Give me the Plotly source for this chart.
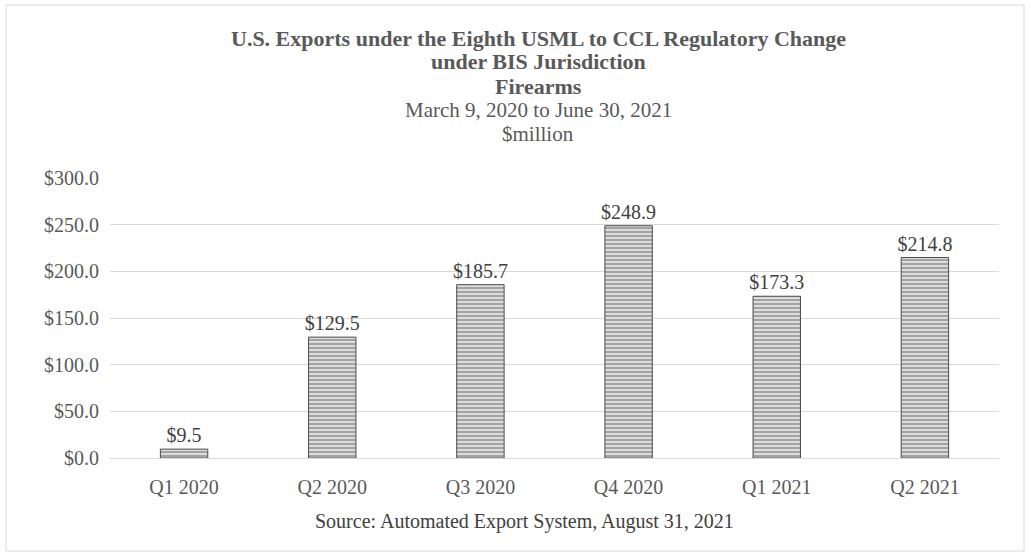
import plotly.graph_objects as go

categories = ["Q1 2020", "Q2 2020", "Q3 2020", "Q4 2020", "Q1 2021", "Q2 2021"]
values = [9.5, 129.5, 185.7, 248.9, 173.3, 214.8]
tick_vals = [0, 50, 100, 150, 200, 250, 300]
tick_text = ["$%.1f" % v for v in tick_vals]

title_bold = ["U.S. Exports under the Eighth USML to CCL Regulatory Change",
              "under BIS Jurisdiction", "Firearms"]
title_plain = ["March 9, 2020 to June 30, 2021", "$million"]
source = "Source: Automated Export System, August 31, 2021"

W, H = 1031, 559
ml, mr, mt, mb = 110, 32, 178, 101
pw, ph = W - ml - mr, H - mt - mb
FONT = "Liberation Serif"

fig = go.Figure(go.Bar(
    x=categories, y=values,
    width=0.32,
    marker=dict(color="#b0b0b0",
                line=dict(color="#4a4a4a", width=1),
                pattern=dict(shape="-", fgcolor="#6a6a6a", bgcolor="#dcdcdc",
                             size=4, solidity=0.5)),
    text=["$%.1f" % v for v in values],
    textposition="outside",
    constraintext="none",
    textfont=dict(family=FONT, size=20, color="#404040"),
    cliponaxis=False,
))

def px_to_paper_x(px):
    return (px - ml) / pw

def px_to_paper_y(py):
    return (H - mb - py) / ph

annotations = []
for t, yy in zip(title_bold, [38, 62, 86]):
    annotations.append(dict(text="<b>%s</b>" % t, x=px_to_paper_x(538), y=px_to_paper_y(yy),
                            xref="paper", yref="paper", showarrow=False,
                            xanchor="center", yanchor="middle",
                            font=dict(family=FONT, size=22, color="#595959")))
for t, yy in zip(title_plain, [110, 134]):
    annotations.append(dict(text=t, x=px_to_paper_x(538), y=px_to_paper_y(yy),
                            xref="paper", yref="paper", showarrow=False,
                            xanchor="center", yanchor="middle",
                            font=dict(family=FONT, size=21, color="#595959")))
annotations.append(dict(text=source, x=px_to_paper_x(524), y=px_to_paper_y(521),
                        xref="paper", yref="paper", showarrow=False,
                        xanchor="center", yanchor="middle",
                        font=dict(family=FONT, size=20, color="#404040")))

shapes = [dict(type="rect", xref="paper", yref="paper",
               x0=px_to_paper_x(6), x1=px_to_paper_x(1024),
               y0=px_to_paper_y(551), y1=px_to_paper_y(5),
               line=dict(color="#d9d9d9", width=1), fillcolor="rgba(0,0,0,0)",
               layer="below")]

fig.update_layout(
    width=W, height=H,
    margin=dict(l=ml, r=mr, t=mt, b=mb),
    paper_bgcolor="white", plot_bgcolor="white",
    showlegend=False,
    annotations=annotations,
    shapes=shapes,
    xaxis=dict(showline=True, linecolor="#d9d9d9", linewidth=1, ticks="",
               tickfont=dict(family=FONT, size=20, color="#595959"),
               ticklabelstandoff=11, showgrid=False),
    yaxis=dict(range=[0, 300], tickvals=tick_vals, ticktext=tick_text,
               showgrid=True, gridcolor="#d9d9d9", gridwidth=1,
               zeroline=False, ticks="", ticklabelstandoff=10,
               tickfont=dict(family=FONT, size=20, color="#595959")),
)

fig.write_html("out.html", config={"displayModeBar": False},
               post_script="document.body.style.margin='0';document.body.style.overflow='hidden';window.dispatchEvent(new Event('resize'));")
